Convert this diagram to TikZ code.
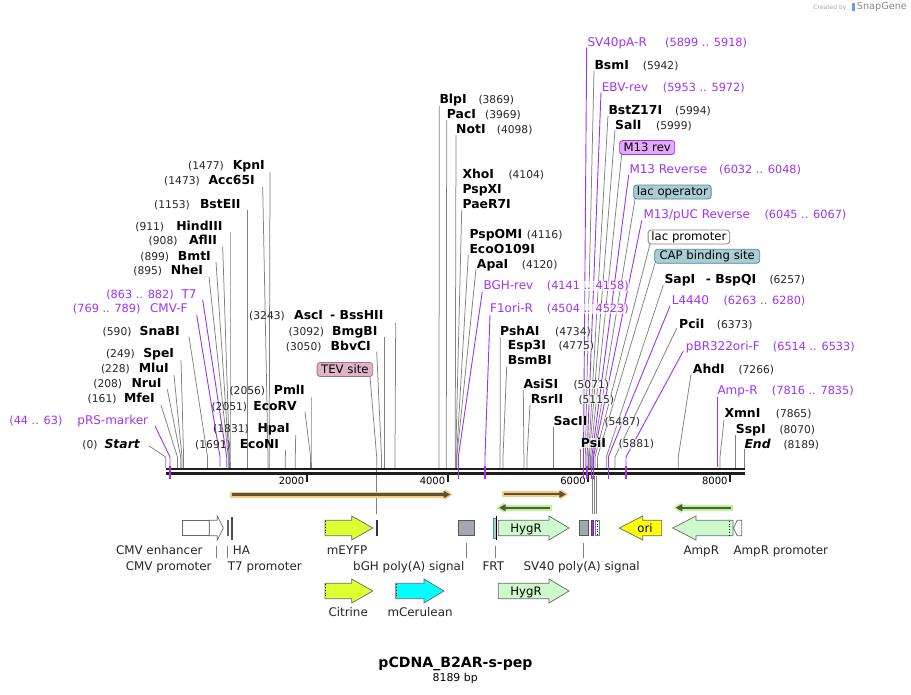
\documentclass[tikz,border=0pt]{standalone}
\usepackage{fontspec}
\setmainfont{DejaVu Sans}
\usetikzlibrary{arrows.meta}
\definecolor{primcol}{RGB}{161,51,240}
\definecolor{linegray}{RGB}{128,128,128}
\definecolor{bb}{RGB}{30,30,30}
\definecolor{orglow}{RGB}{250,200,130}
\definecolor{ordark}{RGB}{95,80,55}
\definecolor{grglow}{RGB}{190,242,150}
\definecolor{grdark}{RGB}{80,90,60}
\definecolor{hyg}{RGB}{204,250,204}
\definecolor{yfp}{RGB}{224,255,48}
\definecolor{cer}{RGB}{0,255,255}
\definecolor{orib}{RGB}{255,255,0}
\definecolor{pagray}{RGB}{163,168,175}
\definecolor{tevf}{RGB}{222,180,200}
\definecolor{tevb}{RGB}{170,110,140}
\definecolor{m13f}{RGB}{228,170,250}
\definecolor{tealf}{RGB}{168,205,213}
\definecolor{tealb}{RGB}{80,140,152}
\definecolor{featb}{RGB}{105,105,105}
\newcommand\sline[3]{\draw[sl] (#1,#2) -- (#3,457) -- (#3,468);}
\newcommand\pline[3]{\draw[pl] (#1,#2) -- (#3,457) -- (#3,467);}
\newcommand\Lz[6]{\node[ezl] (#1) at (#2,#3) {#4};\node[nml] (#1-n) at (#5,#3) {#6};}
\newcommand\Rz[6]{\node[ezr] (#1) at (#2,#3) {#4};\node[nmr] (#1-n) at (#5,#3) {#6};}
\newcommand\Lp[6]{\node[prl] (#1) at (#2,#3) {#4};\node[pnl] (#1-n) at (#5,#3) {#6};}
\newcommand\Rp[6]{\node[prr] (#1) at (#2,#3) {#4};\node[pnr] (#1-n) at (#5,#3) {#6};}
\newcommand\rarrow[5]{\draw[fill=#5,draw=featb,line width=0.7pt] (#1,#4-7.7) -- (#2,#4-7.7) -- (#2,#4-12) -- (#3,#4) -- (#2,#4+12) -- (#2,#4+7.7) -- (#1,#4+7.7) -- cycle;}
\newcommand\larrow[5]{\draw[fill=#5,draw=featb,line width=0.7pt] (#3,#4-7.7) -- (#2,#4-7.7) -- (#2,#4-12) -- (#1,#4) -- (#2,#4+12) -- (#2,#4+7.7) -- (#3,#4+7.7) -- cycle;}
\newcommand\orfR[5]{\fill[#4] (#1,#3-3) rectangle (#2-7,#3+3); \fill[#4] (#2-8,#3-5.5) -- (#2,#3) -- (#2-8,#3+5.5) -- cycle; \draw[#5,line width=2.2pt] (#1+2,#3) -- (#2-7,#3); \fill[#5] (#2-9,#3-3.7) -- (#2-2.5,#3) -- (#2-9,#3+3.7) -- cycle;}
\newcommand\orfL[5]{\fill[#4] (#1+7,#3-3) rectangle (#2,#3+3); \fill[#4] (#1+8,#3-5.5) -- (#1,#3) -- (#1+8,#3+5.5) -- cycle; \draw[#5,line width=2.2pt] (#1+7,#3) -- (#2-2,#3); \fill[#5] (#1+9,#3-3.7) -- (#1+2.5,#3) -- (#1+9,#3+3.7) -- cycle;}
\begin{document}
\begin{tikzpicture}[x=1pt,y=-1pt,
  sl/.style={draw=linegray,line width=0.75pt},
  pl/.style={draw=primcol,line width=0.9pt},
  ghost/.style={fill=white,fill opacity=0.7,text opacity=1},
  ezl/.style={inner sep=0pt,anchor=mid east,yshift=-1.3pt,font=\fontsize{12.4}{14}\selectfont\bfseries},
  ezr/.style={ezl,anchor=mid west,ghost},
  nml/.style={inner sep=0pt,anchor=mid east,yshift=-1.3pt,font=\fontsize{10.7}{13}\selectfont,text=black!85},
  nmr/.style={nml,anchor=mid west,ghost},
  prl/.style={inner sep=0pt,anchor=mid east,yshift=-1.3pt,font=\fontsize{12}{14}\selectfont,text=primcol},
  prr/.style={prl,anchor=mid west,ghost},
  pnl/.style={inner sep=0pt,anchor=mid east,yshift=-1.3pt,font=\fontsize{11.3}{13}\selectfont,text=primcol},
  pnr/.style={pnl,anchor=mid west,ghost},
  fl/.style={inner sep=0pt,anchor=mid west,yshift=-1.3pt,font=\fontsize{11.9}{14}\selectfont,text=black!85},
  bx/.style={inner sep=0pt,anchor=west,rounded corners=3pt,line width=0.8pt,minimum height=14pt,font=\fontsize{11.7}{14}\selectfont},
]
\useasboundingbox (0,0) rectangle (911,694);
\fill[white] (0,0) rectangle (911,694);

% ---------- site lines (left) ----------
\sline{270}{172}{269.2}
\sline{262.7}{186.7}{268}
\sline{247.3}{210}{247.3}
\sline{230}{231.7}{230}
\sline{222.7}{246.7}{229.5}
\sline{216}{261.7}{229}
\sline{209}{276.7}{228.3}
\pline{202.7}{300}{226.7}
\pline{196.7}{315}{220}
\sline{189}{336.7}{207.6}
\sline{181}{360}{183.6}
\sline{174}{375}{182}
\sline{167.3}{389.3}{180.7}
\sline{161}{405}{177.4}
\pline{155}{426}{170}
\sline{148.7}{445.7}{165.7}
\sline{311}{397}{311}
\sline{305}{411.7}{310.6}
\sline{295.7}{435}{295.3}
\sline{285.7}{450}{285.3}
\sline{395.7}{322.7}{395}
\sline{384.3}{337.3}{384.3}
\sline{376.7}{351.7}{381.5}
\sline{370}{376.7}{376.7}
% ---------- site lines (right) ----------
\sline{439.3}{106}{439}
\sline{446.7}{120}{446.3}
\sline{456}{135}{455.2}
\sline{461.7}{210}{455.7}
\sline{468.3}{255}{456.5}
\sline{476}{269}{456.8}
\pline{482.3}{291.7}{458.3}
\pline{490}{315}{485}
\sline{500.3}{337.3}{500.1}
\sline{506.7}{366.7}{503}
\sline{523.3}{390}{523.9}
\sline{530}{404.3}{527}
\sline{553.3}{426.7}{553.3}
\sline{580.7}{449}{580.7}
\pline{586.7}{47.3}{583.5}
\sline{594}{70.7}{585.3}
\pline{601}{92.3}{587}
\sline{608}{115.7}{588.5}
\sline{615}{130}{589.3}
\sline{621.7}{154}{590.5}
\pline{628.7}{175}{591.8}
\sline{635}{199}{592.8}
\pline{641.7}{220.7}{593.5}
\sline{650}{244}{595}
\sline{655}{263.3}{597.5}
\sline{663.3}{285}{606.3}
\pline{670}{306}{608.3}
\sline{676.7}{328.3}{615}
\pline{683.3}{351}{626}
\sline{691}{374.3}{678.3}
\pline{717.3}{396.7}{717.3}
\sline{724}{420}{720}
\sline{735.7}{435}{735.7}
\sline{744.3}{449.3}{744.3}

% lines from backbone to small features
\draw[sl] (376.7,470) -- (376.7,514);
\draw[sl] (592.3,476) -- (592.3,514);
\draw[sl] (594.3,476) -- (594.3,514);
\draw[sl] (596.7,476) -- (596.7,514);

% ---------- backbone ----------
\draw[bb,line width=2.5pt] (165.7,468.9) -- (745,468.9);
\draw[bb,line width=2.5pt] (165.7,473.6) -- (745,473.6);
\foreach \xx/\lab in {306.7/2000,447.7/4000,588.3/6000,730/8000}{
  \draw[bb,line width=2pt] (\xx,474) -- (\xx,482);
  \node[inner sep=0pt,anchor=mid east,yshift=-1.2pt,font=\fontsize{10}{12}\selectfont] (t\lab) at (\xx-2.3,481) {\lab};
}
% primer marks crossing backbone
\foreach \xx in {170,458.3,485,583.5,587,591.8,593.5,608.3,626}{
  \draw[primcol,line width=1.2pt] (\xx,466) -- (\xx,478.5);
}

% ---------- left labels ----------
\Lz{kpn}{265}{165.7}{KpnI}{224}{(1477)}
\Lz{acc}{255}{180.7}{Acc65I}{200}{(1473)}
\Lz{bste}{240.7}{204}{BstEII}{190}{(1153)}
\Lz{hind}{222.7}{226}{HindIII}{164.3}{(911)}
\Lz{afl}{217.3}{240.7}{AflII}{177.7}{(908)}
\Lz{bmt}{211}{256}{BmtI}{169.3}{(899)}
\Lz{nhe}{203.3}{270.7}{NheI}{162.3}{(895)}
\Lp{t7}{196.7}{294}{T7}{174}{(863 .. 882)}
\Lp{cmvf}{187.7}{308.3}{CMV-F}{140.7}{(769 .. 789)}
\Lz{sna}{180}{331}{SnaBI}{131.7}{(590)}
\Lz{spe}{174.3}{353.3}{SpeI}{135}{(249)}
\Lz{mlu}{169}{368.7}{MluI}{130}{(228)}
\Lz{nru}{161.7}{383.3}{NruI}{122.3}{(208)}
\Lz{mfe}{155}{398.7}{MfeI}{116.7}{(161)}
\Lp{prs}{148.3}{420.7}{pRS-marker}{62.7}{(44 .. 63)}
\Lz{start}{140}{444}{\itshape Start}{97.7}{(0)}
\Lz{pml}{305}{390.7}{PmlI}{265.3}{(2056)}
\Lz{ecorv}{297}{406}{EcoRV}{247.3}{(2051)}
\Lz{hpa}{290}{428.3}{HpaI}{249}{(1831)}
\Lz{econ}{279.3}{444}{EcoNI}{231}{(1691)}
\Lz{asc}{323.3}{315.7}{AscI}{285}{(3243)}
\node[ezr] (bsshii) at (330,315.7) {- BssHII};
\Lz{bmg}{377.7}{331}{BmgBI}{324.3}{(3092)}
\Lz{bbv}{371}{346}{BbvCI}{321.7}{(3050)}
\node[bx,fill=tevf,draw=tevb,minimum width=55.6pt] (tev) at (316.7,369.5) {TEV site};

% ---------- right labels ----------
\Rz{blp}{439.3}{99.3}{BlpI}{478.3}{(3869)}
\Rz{pac}{446.7}{114}{PacI}{485}{(3969)}
\Rz{not}{456}{129.3}{NotI}{496.7}{(4098)}
\Rz{xho}{462.3}{174.3}{XhoI}{508.3}{(4104)}
\node[ezr] (pspx) at (462.3,189) {PspXI};
\node[ezr] (paer) at (462.3,204) {PaeR7I};
\Rz{pspo}{469.3}{234}{PspOMI}{526.7}{(4116)}
\node[ezr] (eco109) at (469.3,249) {EcoO109I};
\Rz{apa}{476.7}{264}{ApaI}{521.7}{(4120)}
\Rp{bgh}{483.3}{285.7}{BGH-rev}{546.7}{(4141 .. 4158)}
\Rp{f1r}{490}{308.3}{F1ori-R}{546.7}{(4504 .. 4523)}
\Rz{psha}{500}{331}{PshAI}{555}{(4734)}
\Rz{esp}{507.7}{345.7}{Esp3I}{558.3}{(4775)}
\node[ezr] (bsmb) at (507.7,360.7) {BsmBI};
\Rz{asis}{523.3}{384}{AsiSI}{573.3}{(5071)}
\Rz{rsr}{530.7}{399}{RsrII}{578.3}{(5115)}
\Rz{sac}{553.3}{421}{SacII}{604.3}{(5487)}
\Rz{psi}{580.7}{443.3}{PsiI}{618.3}{(5881)}
\Rp{sv40r}{587.3}{42.3}{SV40pA-R}{665}{(5899 .. 5918)}
\Rz{bsm}{594.3}{65}{BsmI}{642.7}{(5942)}
\Rp{ebv}{601.7}{87.3}{EBV-rev}{662.7}{(5953 .. 5972)}
\Rz{bstz}{608.3}{110}{BstZ17I}{675}{(5994)}
\Rz{sal}{615}{125}{SalI}{656}{(5999)}
\node[bx,fill=m13f,draw=primcol,minimum width=55pt] (m13rev) at (619.3,147.5) {M13 rev};
\Rp{m13r}{629.3}{169.3}{M13 Reverse}{719}{(6032 .. 6048)}
\node[bx,fill=tealf,draw=tealb,minimum width=77.4pt] (lacop) at (633.3,192) {lac operator};
\Rp{m13puc}{643.3}{214.3}{M13/pUC Reverse}{764.3}{(6045 .. 6067)}
\node[bx,fill=white,draw=linegray,minimum width=81.6pt] (lacpro) at (647.7,237) {lac promoter};
\node[bx,fill=tealf,draw=tealb,minimum width=105pt] (cap) at (654.3,256.3) {CAP binding site};
\Rz{sap}{664.3}{279.3}{SapI}{769.3}{(6257)}
\node[ezr] (bspq) at (705.7,279.3) {- BspQI};
\Rp{l4440}{671.7}{300.7}{L4440}{723.3}{(6263 .. 6280)}
\Rz{pci}{679}{324}{PciI}{716.7}{(6373)}
\Rp{pbr}{685.7}{346.7}{pBR322ori-F}{772.7}{(6514 .. 6533)}
\Rz{ahd}{692.7}{369}{AhdI}{738.3}{(7266)}
\Rp{ampr}{717.3}{390.7}{Amp-R}{771.7}{(7816 .. 7835)}
\Rz{xmn}{724.3}{413.3}{XmnI}{775.7}{(7865)}
\Rz{ssp}{735.7}{429}{SspI}{779.3}{(8070)}
\Rz{endl}{744.3}{444}{\itshape End}{783.3}{(8189)}

% ---------- ORF arrows ----------
\orfR{230}{452.7}{494.5}{orglow}{ordark}
\orfR{501.7}{568.3}{494.3}{orglow}{ordark}
\orfL{496.7}{552}{507.7}{grglow}{grdark}
\orfL{673.3}{733}{507.7}{grglow}{grdark}

% ---------- features row 1 ----------
\draw[fill=white,draw=featb,line width=0.7pt] (182.3,520.3) rectangle (209.3,535.7);
\rarrow{209.3}{217.3}{223.3}{528}{white}
\draw[line width=1.8pt,draw=black!60] (227.7,520) -- (227.7,536);
\draw[fill=tevf,draw=black!70,line width=0.5pt] (230.8,517) rectangle (232.4,539);
\rarrow{325}{351.7}{372.7}{528}{yfp}
\draw[black,line width=0.9pt,dotted] (325.4,520.8) -- (325.4,535.2);
\draw[line width=2pt,draw=black!80] (377,520) -- (377,536);
\draw[fill=pagray,draw=black!65,line width=0.8pt] (458.3,520.3) rectangle (474.3,535.7);
\draw[fill=tealf,draw=tealb,line width=0.6pt] (493.6,518) rectangle (495.8,538);
\draw[black,line width=0.8pt] (496.8,516) -- (496.8,540);
\rarrow{498.3}{549}{569}{528}{hyg}
\node[inner sep=0pt,yshift=-1.3pt,anchor=mid,font=\fontsize{11.7}{14}\selectfont] (hyg1) at (526,528) {HygR};
\draw[fill=pagray,draw=black!65,line width=0.8pt] (579.3,520.3) rectangle (588.7,535.7);
\draw[fill=primcol,draw=primcol!70!black,line width=0.5pt] (591,520.3) rectangle (593.6,535.7);
\draw[fill=white,draw=tealb,line width=0.9pt] (595,520.3) rectangle (599.3,535.7);
\draw[black,line width=0.6pt,dotted] (597.2,521) -- (597.2,535);
\larrow{619.3}{642.7}{661.7}{528}{orib}
\node[inner sep=0pt,yshift=-1.3pt,anchor=mid,font=\fontsize{11.7}{14}\selectfont] (ori) at (645,528) {ori};
\larrow{672.7}{696}{733}{528}{hyg}
\draw[black,line width=0.8pt,dotted] (729.3,520.8) -- (729.3,535.2);
\draw[fill=white,draw=featb,line width=0.7pt] (741.7,520.3) -- (737.2,520.3) -- (733.5,528) -- (737.2,535.7) -- (741.7,535.7) -- cycle;

% ---------- features row 2 ----------
\rarrow{325}{351.7}{372.7}{591}{yfp}
\draw[black,line width=0.9pt,dotted] (325.4,583.8) -- (325.4,598.2);
\rarrow{395.7}{424}{444}{591}{cer}
\draw[black,line width=0.9pt,dotted] (396.1,583.8) -- (396.1,598.2);
\rarrow{498.3}{549}{569}{591}{hyg}
\node[inner sep=0pt,yshift=-1.3pt,anchor=mid,font=\fontsize{11.7}{14}\selectfont] (hyg2) at (526,591) {HygR};

% ---------- feature label ticks ----------
\draw[sl] (216.7,546) -- (216.7,558);
\draw[sl] (227.7,546) -- (227.7,558);
\draw[sl] (466,543) -- (466,558);
\draw[sl] (495.3,546) -- (495.3,558);
\draw[sl] (583.3,543) -- (583.3,558);

% ---------- feature labels ----------
\node[fl,anchor=mid east] (lcmve) at (202.7,550) {CMV enhancer};
\node[fl] (lha) at (232.7,550) {HA};
\node[fl] (lcmvp) at (125.7,566) {CMV promoter};
\node[fl] (lt7p) at (227.7,566) {T7 promoter};
\node[fl] (leyfp) at (326.7,550) {mEYFP};
\node[fl] (lbgh) at (353,566) {bGH poly(A) signal};
\node[fl] (lfrt) at (482.3,566) {FRT};
\node[fl] (lsv40) at (523.3,566) {SV40 poly(A) signal};
\node[fl] (lamp) at (683.3,550) {AmpR};
\node[fl] (lampp) at (733.3,550) {AmpR promoter};
\node[fl] (lcit) at (328.3,612) {Citrine};
\node[fl] (lcer) at (387.3,612) {mCerulean};

% ---------- title ----------
\node[inner sep=0pt,anchor=mid,yshift=-1.5pt,font=\fontsize{14.1}{16}\selectfont\bfseries] (title) at (455.5,663.3) {pCDNA\_B2AR-s-pep};
\node[inner sep=0pt,anchor=mid,yshift=-1.2pt,font=\fontsize{10.9}{13}\selectfont] (bp) at (455.2,677.7) {8189 bp};

% ---------- watermark ----------
\node[inner sep=0pt,anchor=mid east,text=black!35,font=\fontsize{6}{7}\selectfont] (cb) at (846.7,7) {Created by};
\fill[cyan!55!blue!60] (851.5,2.5) rectangle (854.5,11);
\node[inner sep=0pt,anchor=mid west,text=black!45,font=\fontsize{9.7}{11}\selectfont] (sg) at (856.7,7) {SnapGene};
\end{tikzpicture}
\end{document}
